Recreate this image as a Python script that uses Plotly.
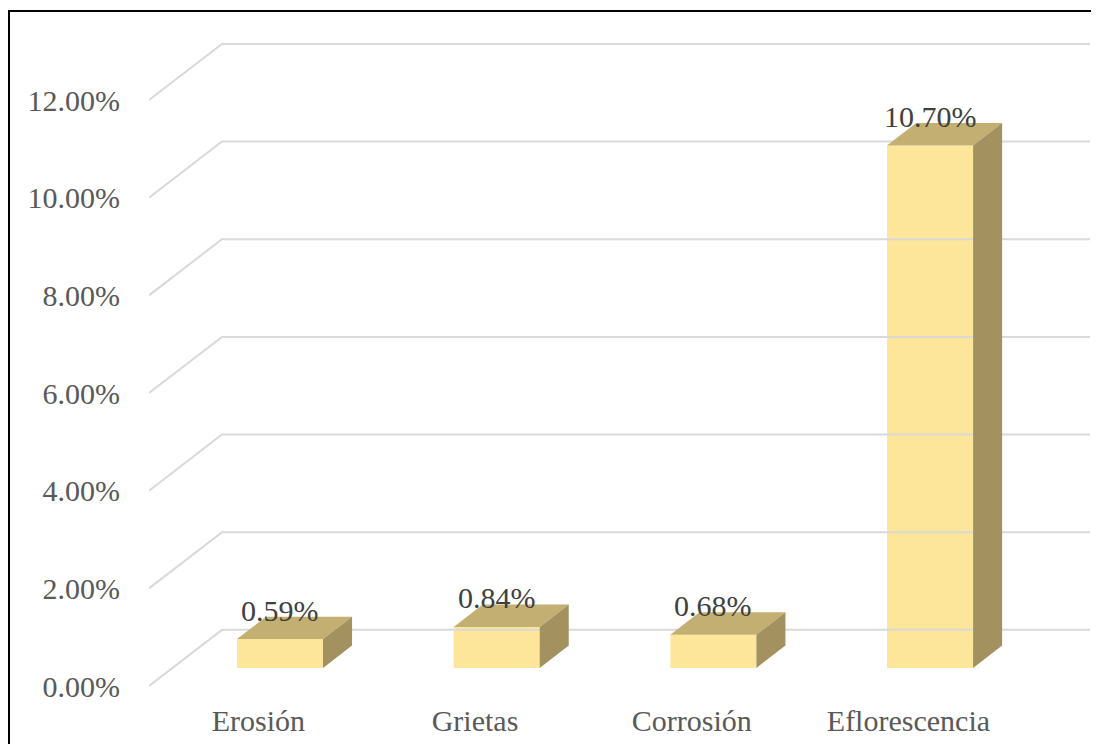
import plotly.graph_objects as go

categories = ["Erosión", "Grietas", "Corrosión", "Eflorescencia"]
values = [0.0059, 0.0084, 0.0068, 0.1070]
y_ticks = [0.00, 0.02, 0.04, 0.06, 0.08, 0.10, 0.12]

# fake 3d geometry (axis units)
bar_w = 0.397
depth_x = 0.134
depth_y = 0.0046
bar_base = 0.0037      # bars stand a bit behind the front edge of the floor
wall_off = 0.0115      # back wall sits higher than the front labels
x_front = -0.6045
x_wall = -0.2677
x_end = 3.738

front_col = "#FDE699"
top_col = "#C4AF72"
side_col = "#A39160"
grid_col = "#D9D9D9"
font_fam = "Liberation Serif, Times New Roman, serif"

fig = go.Figure()

# gridlines: diagonal on the left side wall, then along the back wall
gx, gy = [], []
for v in y_ticks:
    gx += [x_front, x_wall, x_end, None]
    gy += [v, v + wall_off, v + wall_off, None]
fig.add_trace(go.Scatter(x=gx, y=gy, mode="lines", line=dict(color=grid_col, width=2),
                         hoverinfo="skip", showlegend=False))

xs = list(range(len(categories)))

# front faces
fig.add_trace(go.Bar(x=xs, y=values, base=[bar_base] * len(values), width=bar_w,
                     marker=dict(color=front_col, line=dict(width=0)), showlegend=False))

# top and side faces
for i, v in enumerate(values):
    left = i - bar_w / 2
    right = i + bar_w / 2
    top = bar_base + v
    fig.add_trace(go.Scatter(
        x=[left, left + depth_x, right + depth_x, right, left],
        y=[top, top + depth_y, top + depth_y, top, top],
        fill="toself", fillcolor=top_col, mode="lines", line=dict(width=0, color=top_col),
        hoverinfo="skip", showlegend=False))
    fig.add_trace(go.Scatter(
        x=[right, right + depth_x, right + depth_x, right, right],
        y=[bar_base, bar_base + depth_y, top + depth_y, top, bar_base],
        fill="toself", fillcolor=side_col, mode="lines", line=dict(width=0, color=side_col),
        hoverinfo="skip", showlegend=False))
    fig.add_annotation(x=i, y=top + depth_y, text=f"{v * 100:.2f}%", showarrow=False,
                       yanchor="bottom", yshift=-12,
                       font=dict(family=font_fam, size=30, color="#404040"))

# border around the chart (right and bottom edges fall outside the picture)
fig.add_shape(type="rect", xref="paper", yref="paper", x0=-0.1488, x1=1.03, y0=-0.15, y1=1.0446,
              line=dict(color="black", width=2))

# page body has an 8px margin, so the figure is a bit smaller
fig.update_layout(
    width=1091, height=736,
    margin=dict(l=141, r=9, t=32, b=54),
    paper_bgcolor="white", plot_bgcolor="white",
    barmode="overlay",
    font=dict(family=font_fam, size=30, color="#595959"),
    xaxis=dict(range=[x_front, x_end], tickvals=[i - 0.1 for i in xs], ticktext=categories,
               showgrid=False, zeroline=False, showline=False, ticks="",
               ticklabelstandoff=10, automargin=False),
    yaxis=dict(range=[-0.00082, 0.1323], tickvals=y_ticks, tickformat=".2%",
               showgrid=False, zeroline=False, showline=False, ticks="",
               ticklabelstandoff=28, automargin=False),
)

fig.write_html("out.html")
